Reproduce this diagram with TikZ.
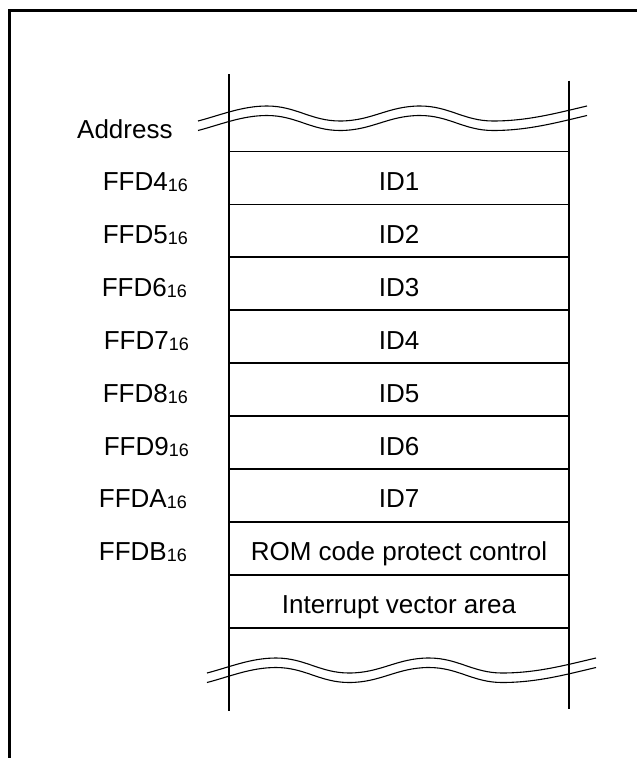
\documentclass[tikz,border=0pt]{standalone}
\usepackage{fontspec}
\setmainfont{Liberation Sans}
\usetikzlibrary{positioning}
\newcommand\addr[1]{#1{\fontsize{18}{18}\selectfont\raisebox{-1pt}{16}}}
\tikzset{
    cell/.style={
        rectangle,
        draw,
        line width=1.8pt,
        minimum width=340pt,
        minimum height=52.9pt,
        inner sep=0pt,
        outer sep=0pt,
        text height=25pt,
        text depth=0pt
    },
    addrlabel/.style={anchor=base east, inner sep=0pt},
    rail/.style={line width=2.7pt},
    wavy/.style={line width=1.1pt},
    wave/.style={insert path={
        .. controls +(23,-6) and +(-25,0) .. ++(69,-15)
        .. controls +(29,0) and +(-29,0) .. ++(73,15)
        .. controls +(32,0) and +(-32,0) .. ++(80,-15)
        .. controls +(29,0) and +(-29,0) .. ++(73,15)
        .. controls +(35,0) and +(-30,7) .. ++(94,-15)}},
    gap/.pic={
        \draw[wavy] (0,0) [wave];
        \draw[wavy] (0,9.5) [wave];
    }
}

\begin{document}
\begin{tikzpicture}[x=1pt, y=-1pt, font=\fontsize{26}{30}\selectfont]
\useasboundingbox (0,0) rectangle (637,758);

% outer frame, runs off the right and bottom edge
\coordinate (fb) at (9.7,758);
\coordinate (fr) at (637,10.4);
\draw[line width=2.7pt] (fb) |- (fr);

% memory cells
\node[cell] (id1) at (399,178.0) {ID1};
\node[cell] (id2) at (399,230.9) {ID2};
\node[cell] (id3) at (399,283.8) {ID3};
\node[cell] (id4) at (399,336.7) {ID4};
\node[cell] (id5) at (399,389.6) {ID5};
\node[cell] (id6) at (399,442.5) {ID6};
\node[cell] (id7) at (399,495.4) {ID7};
\node[cell] (rom) at (399,548.3) {ROM code protect control};
\node[cell] (vec) at (399,601.2) {Interrupt vector area};

% addresses
\node[anchor=base west, inner sep=0pt] (head) at (77,138) {Address};
\node[addrlabel] (a4) at (188,190.5) {\addr{FFD4}};
\node[addrlabel] (a5) at (188,243.4) {\addr{FFD5}};
\node[addrlabel] (a6) at (187,296.3) {\addr{FFD6}};
\node[addrlabel] (a7) at (189,349.2) {\addr{FFD7}};
\node[addrlabel] (a8) at (188,402.1) {\addr{FFD8}};
\node[addrlabel] (a9) at (189,455.0) {\addr{FFD9}};
\node[addrlabel] (aa) at (187,507.9) {\addr{FFDA}};
\node[addrlabel] (ab) at (187,560.8) {\addr{FFDB}};

% side rails
\coordinate (lt) at (229,74);
\coordinate (lb) at (229,711);
\coordinate (rt) at (569,80.5);
\coordinate (rb) at (569,708.5);
\draw[rail] (lt) -- (lb);
\draw[rail] (rt) -- (rb);

% breaks
\pic at (198,121) {gap};
\pic at (207,673) {gap};

\end{tikzpicture}
\end{document}
